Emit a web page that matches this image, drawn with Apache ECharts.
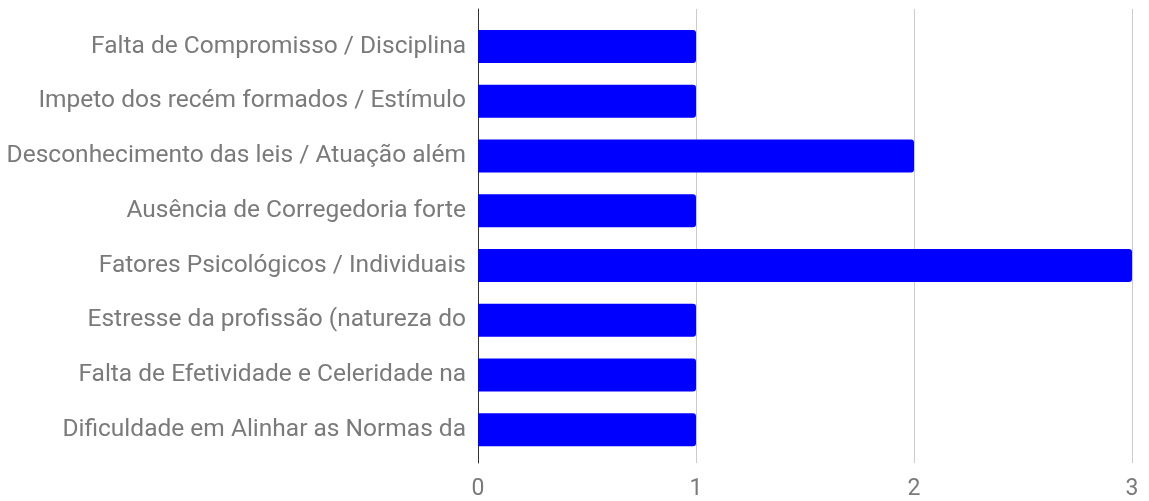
<!DOCTYPE html>
<html><head><meta charset="utf-8">
<script src="https://cdn.jsdelivr.net/npm/echarts@6/dist/echarts.min.js"></script>
<style>html,body{margin:0;padding:0;background:#fff}#c{width:1149px;height:501px}</style>
</head><body><div id="c"></div>
<script>
const categories = [
  "Falta de Compromisso / Disciplina",
  "Impeto dos recém formados / Estímulo",
  "Desconhecimento das leis / Atuação além",
  "Ausência de Corregedoria forte",
  "Fatores Psicológicos / Individuais",
  "Estresse da profissão (natureza do",
  "Falta de Efetividade e Celeridade na",
  "Dificuldade em Alinhar as Normas da"
];
const values = [1, 1, 2, 1, 3, 1, 1, 1];
const xTicks = [0, 1, 2, 3];

const chart = echarts.init(document.getElementById('c'), null, {renderer: 'canvas'});
const font = 'Roboto';
chart.setOption({
  animation: false,
  backgroundColor: '#fff',
  grid: [
    {left: 478, right: 17, top: 19, bottom: 44},
    {left: 478, right: 17, top: 9, bottom: 34}
  ],
  xAxis: [
    {gridIndex: 0, type: 'value', min: xTicks[0], max: xTicks[xTicks.length-1], interval: 1, show: false},
    {gridIndex: 1, type: 'value', min: xTicks[0], max: xTicks[xTicks.length-1], interval: 1,
     axisLine: {show: false}, axisTick: {show: false},
     splitLine: {show: true, lineStyle: {color: '#cccccc', width: 1}},
     axisLabel: {color: '#7a7a7a', fontFamily: font, fontSize: 23, margin: 15}}
  ],
  yAxis: [
    {gridIndex: 0, type: 'category', data: categories, inverse: true,
     axisLine: {show: false}, axisTick: {show: false},
     axisLabel: {color: '#7a7a7a', fontFamily: font, fontSize: 24.5, margin: 12}},
    {gridIndex: 1, type: 'value', min: 0, max: 1, show: true,
     axisLine: {show: true, onZero: false, lineStyle: {color: '#333333', width: 1}},
     axisTick: {show: false}, axisLabel: {show: false}, splitLine: {show: false}}
  ],
  series: [{
    type: 'bar', xAxisIndex: 0, yAxisIndex: 0, data: values,
    barWidth: 33,
    itemStyle: {color: '#0000ff', borderRadius: [0, 3, 3, 0]}
  }]
});
</script></body></html>
